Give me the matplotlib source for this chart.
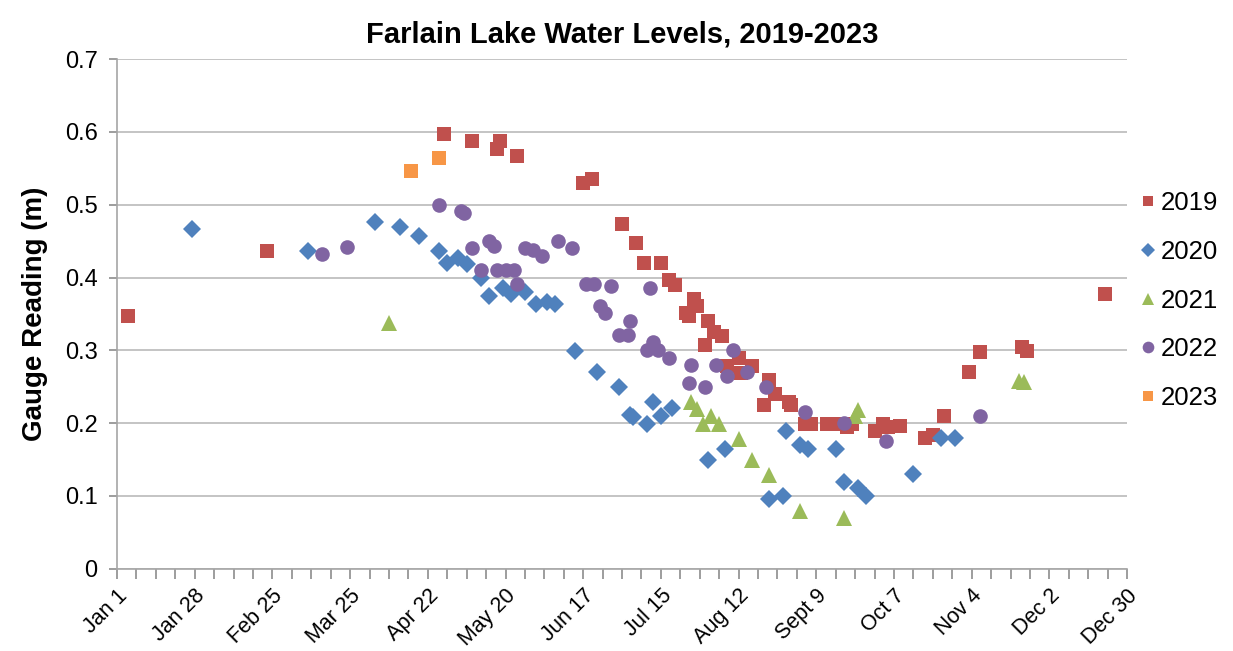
import matplotlib.pyplot as plt

plt.rcParams['font.family'] = ['Liberation Sans', 'DejaVu Sans']

# x is day offset from Jan 1
tick_labels = ['Jan 1', 'Jan 28', 'Feb 25', 'Mar 25', 'Apr 22', 'May 20', 'Jun 17',
               'Jul 15', 'Aug 12', 'Sept 9', 'Oct 7', 'Nov 4', 'Dec 2', 'Dec 30']

day_2019 = [4, 54, 118, 128, 137, 138, 144, 168, 171, 182, 187, 190, 196, 199, 201,
            205, 206, 208, 209, 212, 213, 215, 218, 220, 224, 225, 229, 233, 235, 237,
            242, 243, 248, 250, 256, 259, 263, 265, 273, 276, 278, 282, 291, 294, 298,
            307, 311, 326, 328, 356]
lvl_2019 = [0.347, 0.437, 0.597, 0.587, 0.577, 0.587, 0.567, 0.530, 0.536, 0.474,
            0.447, 0.420, 0.420, 0.397, 0.390, 0.351, 0.347, 0.370, 0.361, 0.307,
            0.340, 0.325, 0.319, 0.279, 0.290, 0.269, 0.279, 0.225, 0.259, 0.240,
            0.229, 0.225, 0.199, 0.199, 0.199, 0.199, 0.194, 0.199, 0.189, 0.199,
            0.194, 0.196, 0.180, 0.184, 0.209, 0.270, 0.297, 0.305, 0.299, 0.377]

day_2020 = [27, 69, 93, 102, 109, 116, 119, 123, 126, 131, 134, 139, 142, 147, 151,
            155, 158, 165, 173, 181, 185, 186, 191, 193, 196, 200, 213, 219, 235, 240,
            241, 246, 249, 259, 262, 267, 270, 287, 297, 302]
lvl_2020 = [0.466, 0.437, 0.476, 0.470, 0.457, 0.437, 0.420, 0.427, 0.418, 0.399,
            0.375, 0.385, 0.377, 0.380, 0.364, 0.366, 0.364, 0.299, 0.270, 0.249,
            0.211, 0.208, 0.199, 0.229, 0.209, 0.220, 0.149, 0.164, 0.095, 0.100,
            0.189, 0.170, 0.164, 0.164, 0.119, 0.110, 0.100, 0.130, 0.179, 0.179]

day_2021 = [98, 207, 209, 211, 214, 217, 224, 229, 235, 246, 262, 266, 267, 325, 327]
lvl_2021 = [0.338, 0.229, 0.219, 0.199, 0.209, 0.199, 0.178, 0.149, 0.128, 0.079,
            0.069, 0.209, 0.218, 0.258, 0.257]

day_2022 = [74, 83, 116, 124, 125, 128, 131, 134, 136, 137, 140, 143, 144, 147, 150,
            153, 159, 164, 169, 172, 174, 176, 178, 181, 184, 185, 191, 192, 193, 195,
            199, 206, 207, 212, 216, 220, 222, 227, 234, 248, 262, 277, 311]
lvl_2022 = [0.432, 0.442, 0.500, 0.492, 0.489, 0.441, 0.410, 0.450, 0.443, 0.410,
            0.410, 0.410, 0.391, 0.441, 0.438, 0.430, 0.450, 0.441, 0.391, 0.391,
            0.361, 0.351, 0.388, 0.321, 0.321, 0.340, 0.300, 0.385, 0.311, 0.300,
            0.290, 0.255, 0.280, 0.250, 0.280, 0.265, 0.300, 0.270, 0.250, 0.215,
            0.200, 0.175, 0.209]

day_2023 = [106, 116]
lvl_2023 = [0.547, 0.564]

fig = plt.figure(figsize=(12.33, 6.51), dpi=100)
ax = fig.add_axes([0.0949, 0.1267, 0.8192, 0.7823])

ax.plot(day_2019, lvl_2019, 's', color='#C0504D', ms=9.4, mew=0, label='2019')
ax.plot(day_2020, lvl_2020, 'D', color='#4F81BD', ms=9.5, mew=0, label='2020')
ax.plot(day_2021, lvl_2021, '^', color='#9BBB59', ms=11.5, mew=0, label='2021')
ax.plot(day_2022, lvl_2022, 'o', color='#8064A2', ms=10.5, mew=0, label='2022')
ax.plot(day_2023, lvl_2023, 's', color='#F79646', ms=9.4, mew=0, label='2023')

ax.set_xlim(0, 364)
ax.set_ylim(0, 0.7)
ax.set_xticks(range(0, 365, 28))
ax.set_xticklabels(tick_labels, rotation=45, ha='right', rotation_mode='anchor')
# weekly minor ticks
ax.set_xticks([d for d in range(0, 365, 7) if d % 28], minor=True)
ax.set_yticks([i / 10 for i in range(8)])
ax.set_yticklabels(['0', '0.1', '0.2', '0.3', '0.4', '0.5', '0.6', '0.7'])

ax.grid(axis='y', color='#BFBFBF', lw=1.3)
ax.set_axisbelow(True)
for s in ['top', 'right']:
    ax.spines[s].set_visible(False)
for s in ['left', 'bottom']:
    ax.spines[s].set_color('#A6A6A6')
    ax.spines[s].set_linewidth(1.2)
ax.tick_params(axis='both', which='both', color='#8C8C8C', direction='out', width=1.2)
ax.tick_params(axis='x', which='major', length=7, labelsize=15.5, pad=5)
ax.tick_params(axis='x', which='minor', length=7)
ax.tick_params(axis='y', length=6, labelsize=17, pad=8)

ax.set_title('Farlain Lake Water Levels, 2019-2023', fontsize=21, fontweight='bold', pad=12)
ax.set_ylabel('Gauge Reading (m)', fontsize=20, fontweight='bold', labelpad=12)

ax.legend(loc='center left', bbox_to_anchor=(1.0145, 0.526), frameon=False,
          fontsize=18.5, markerscale=0.8, handlelength=0.5, handletextpad=0.25,
          labelspacing=0.96, borderpad=0, borderaxespad=0)

fig.savefig('out.png', dpi=100)
